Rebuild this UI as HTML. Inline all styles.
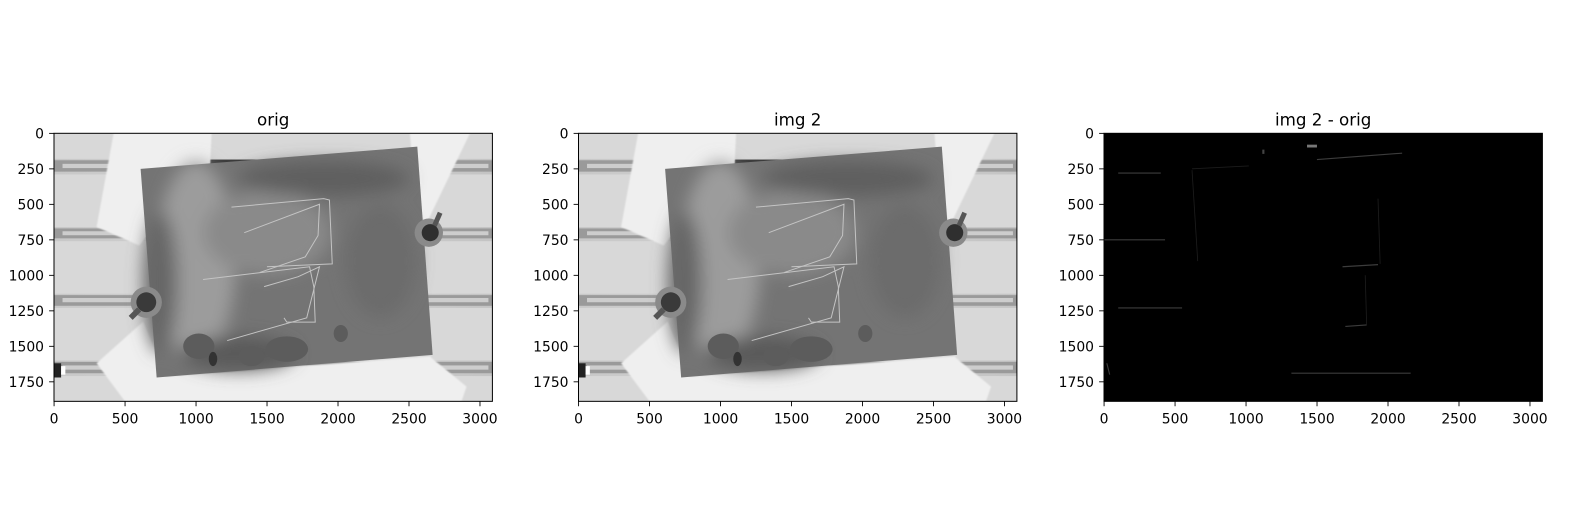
<!DOCTYPE html>
<html><head><meta charset="utf-8">
<style>
html,body{margin:0;padding:0;background:#fff;}
#fig{position:relative;width:1596px;height:517px;overflow:hidden;font-family:"DejaVu Sans","Liberation Sans",sans-serif;}
</style></head>
<body>
<div id="fig">
<svg id="svg" width="1596" height="517" xmlns="http://www.w3.org/2000/svg">
<defs>
  <filter id="soft" x="-5%" y="-5%" width="110%" height="110%"><feGaussianBlur stdDeviation="6"/></filter>
  <filter id="blob" x="-50%" y="-50%" width="200%" height="200%"><feGaussianBlur stdDeviation="60"/></filter>
  <linearGradient id="bgGrad" x1="0" y1="0" x2="1" y2="0">
    <stop offset="0" stop-color="#c8c8c8"/><stop offset="0.5" stop-color="#d2d2d2"/><stop offset="1" stop-color="#c4c4c4"/>
  </linearGradient>
  <g id="photo">
    <rect x="0" y="0" width="3088" height="1888" fill="url(#bgGrad)"/>
    <g fill="#9a9a9a">
      <rect x="0" y="190" width="3088" height="80"/>
      <rect x="0" y="670" width="3088" height="70"/>
      <rect x="0" y="1140" width="3088" height="75"/>
      <rect x="0" y="1610" width="3088" height="80"/>
    </g>
    <g fill="#cdcdcd">
      <rect x="60" y="215" width="3000" height="30"/>
      <rect x="60" y="690" width="3000" height="28"/>
      <rect x="60" y="1160" width="3000" height="30"/>
      <rect x="60" y="1635" width="3000" height="30"/>
    </g>
    <g fill="#d8d8d8">
      <rect x="0" y="0" width="3088" height="180"/>
      <rect x="0" y="290" width="3088" height="370"/>
      <rect x="0" y="760" width="3088" height="370"/>
      <rect x="0" y="1230" width="3088" height="370"/>
      <rect x="0" y="1710" width="3088" height="178"/>
    </g>
    <rect x="1100" y="185" width="1450" height="60" fill="#3a3a3a"/>
    <g fill="#efefef" filter="url(#soft)">
      <polygon points="420,0 1110,0 1100,210 600,790 300,660"/>
      <polygon points="629,1326 860,1888 500,1888 300,1620"/>
      <polygon points="2507,0 2930,0 2613,657 2540,400"/>
      <polygon points="2155,1608 2648,1573 2906,1784 2870,1888 2202,1888"/>
      <polygon points="723,1720 2660,1570 2200,1888 860,1888"/>
    </g>
    <polygon points="610,251 2559,94 2667,1561 723,1720" fill="#747474"/>
    <g filter="url(#blob)">
      <ellipse cx="1000" cy="900" rx="280" ry="700" fill="#9c9c9c"/>
      <ellipse cx="1500" cy="700" rx="450" ry="300" fill="#8a8a8a"/>
      <ellipse cx="1900" cy="320" rx="600" ry="120" fill="#5e5e5e"/>
      <ellipse cx="2300" cy="900" rx="250" ry="400" fill="#6c6c6c"/>
      <ellipse cx="1300" cy="1550" rx="400" ry="120" fill="#5a5a5a"/>
      <ellipse cx="750" cy="1050" rx="120" ry="500" fill="#666"/>
    </g>
    <g fill="#5c5c5c">
      <ellipse cx="1020" cy="1500" rx="110" ry="90"/>
      <ellipse cx="1390" cy="1570" rx="90" ry="70"/>
      <ellipse cx="1640" cy="1520" rx="150" ry="90"/>
      <ellipse cx="2020" cy="1410" rx="50" ry="60"/>
      <ellipse cx="1120" cy="1590" rx="30" ry="50" fill="#333"/>
    </g>
    <g stroke="#c4c4c4" stroke-width="7" fill="none">
      <polyline points="1250,520 1900,460 1940,470 1960,920 1500,940"/>
      <polyline points="1340,700 1870,500 1860,720 1770,870 1450,980"/>
      <polyline points="1050,1030 1800,940 1830,1080 1840,1330 1640,1330 1620,1300"/>
      <polyline points="1220,1460 1780,1300 1870,940 1720,1010 1480,1080"/>
    </g>
    <g>
      <circle cx="650" cy="1190" r="110" fill="#8a8a8a"/>
      <circle cx="650" cy="1190" r="70" fill="#3a3a3a"/>
      <line x1="600" y1="1240" x2="540" y2="1300" stroke="#555" stroke-width="40"/>
      <circle cx="2640" cy="700" r="100" fill="#8a8a8a"/>
      <circle cx="2650" cy="700" r="60" fill="#2f2f2f"/>
      <line x1="2680" y1="650" x2="2720" y2="560" stroke="#555" stroke-width="35"/>
    </g>
    <rect x="0" y="1620" width="50" height="100" fill="#222"/>
    <rect x="50" y="1640" width="30" height="60" fill="#fff"/>
  </g>
  <g id="diff">
    <rect x="0" y="0" width="3088" height="1888" fill="#000"/>
    <g stroke="#3c3c3c" stroke-width="8" fill="none">
      <line x1="1500" y1="185" x2="2100" y2="140"/>
      <line x1="100" y1="280" x2="400" y2="280"/>
      <line x1="0" y1="750" x2="430" y2="750"/>
      <line x1="100" y1="1230" x2="550" y2="1230"/>
      <line x1="1320" y1="1690" x2="2160" y2="1690"/>
      <line x1="1700" y1="1360" x2="1850" y2="1350"/>
      <line x1="1680" y1="940" x2="1930" y2="925"/>
      <line x1="20" y1="1620" x2="40" y2="1700"/>
    </g>
    <g stroke="#1c1c1c" stroke-width="6" fill="none">
      <line x1="620" y1="260" x2="660" y2="900"/>
      <line x1="1930" y1="460" x2="1945" y2="920"/>
      <line x1="1840" y1="1000" x2="1850" y2="1350"/>
      <line x1="620" y1="250" x2="1020" y2="230"/>
    </g>
    <rect x="1430" y="80" width="70" height="20" fill="#777"/>
    <rect x="1115" y="115" width="15" height="30" fill="#444"/>
  </g>
</defs>
<g id="axesLayer"></g>
</svg>
</div>
<script>
const xTicks = [0, 500, 1000, 1500, 2000, 2500, 3000];
const yTicks = [0, 250, 500, 750, 1000, 1250, 1500, 1750];
const titles = ["orig", "img 2", "img 2 - orig"];
const imgW = 3088, imgH = 1888;
const axLefts = [54, 578.5, 1104];
const axTop = 133.3, scale = 0.14197;
const NS = "http://www.w3.org/2000/svg";
const layer = document.getElementById('axesLayer');
function mk(tag, attrs, parent){const e=document.createElementNS(NS,tag);for(const k in attrs)e.setAttribute(k,attrs[k]);parent.appendChild(e);return e;}
titles.forEach((t,i)=>{
  const L = axLefts[i], W = imgW*scale, H = imgH*scale;
  const sx = v => L + (v+0.5)*scale;
  const sy = v => axTop + (v+0.5)*scale;
  const g = mk('g',{},layer);
  
  
  const img = mk('use',{href: i<2 ? '#photo' : '#diff', transform:`translate(${L},${axTop}) scale(${scale})`},g);
  
  
  const fr = mk('rect',{x:L,y:axTop,width:W,height:H,fill:'none',stroke:'#000','stroke-width':1},g);
  
  
  const tt = mk('text',{x:L+W/2,y:axTop-8,'text-anchor':'middle','font-size':'16.7px',fill:'#000'},g);
  tt.textContent = t;
  
  
  xTicks.forEach(v=>{
    const x = sx(v);
    const tk = mk('line',{x1:x,x2:x,y1:axTop+H,y2:axTop+H+4.9,stroke:'#000','stroke-width':0.9},g);
    
    
    const lb = mk('text',{x:x,y:axTop+H+22,'text-anchor':'middle','font-size':'13.9px',fill:'#000'},g);
    lb.textContent = v;
    
    
  });
  yTicks.forEach(v=>{
    const y = sy(v);
    const tk = mk('line',{x1:L-4.9,x2:L,y1:y,y2:y,stroke:'#000','stroke-width':0.9},g);
    
    
    const lb = mk('text',{x:L-10,y:y+5,'text-anchor':'end','font-size':'13.9px',fill:'#000'},g);
    lb.textContent = v;
    
    
  });
});
</script>
</body></html>
